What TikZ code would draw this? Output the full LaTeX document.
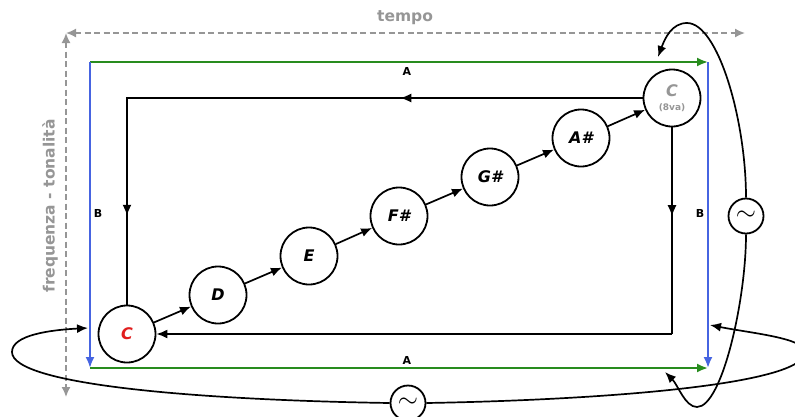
\documentclass[tikz,border=0pt]{standalone}
\usepackage{fontspec}
\setmainfont{DejaVu Sans}
\usetikzlibrary{arrows.meta}

\definecolor{axisgray}{RGB}{150,150,150}
\definecolor{framegreen}{RGB}{40,140,30}
\definecolor{frameblue}{RGB}{70,100,225}
\definecolor{notered}{RGB}{225,30,30}

\begin{document}
\begin{tikzpicture}[x=1pt,y=-1pt,
  tip/.style={-{Latex[length=11pt,width=9pt]}},
  blk/.style={line width=1.7pt,black},
  axisline/.style={line width=1.6pt,axisgray,dash pattern=on 6pt off 3.5pt,
    {Latex[length=10pt,width=9pt]}-{Latex[length=10pt,width=9pt]}},
  axislabel/.style={text=axisgray,font=\fontsize{15.5}{16}\selectfont\bfseries},
  greenline/.style={line width=2pt,framegreen},
  blueline/.style={line width=2pt,frameblue},
  lab/.style={font=\fontsize{11}{11}\selectfont\bfseries,inner sep=0pt},
  note/.style={circle,draw,line width=1.8pt,fill=white,minimum size=57pt,inner sep=0pt,
    font=\fontsize{16}{16}\selectfont\bfseries\itshape},
  tildenode/.style={circle,draw,line width=1.8pt,fill=white,minimum size=35pt,inner sep=0pt}
]
\useasboundingbox (0,0) rectangle (795,416);

% axes: time and pitch
\coordinate (origin) at (66,33);
\coordinate (timeend) at (745,33);
\coordinate (pitchend) at (66,397);
\draw[axisline] (origin) -- (timeend);
\draw[axisline] (origin) -- (pitchend);
\node[axislabel] (tempo) at (405,18) {tempo};
\node[axislabel,rotate=90] (freq) at (50,206) {frequenza - tonalità};

% outer frame: A (green) and B (blue)
\coordinate (ftl) at (90,62);
\coordinate (ftr) at (708,62);
\coordinate (fbl) at (90,368);
\coordinate (fbr) at (708,368);
\draw[greenline,tip] (ftl) -- (ftr);
\draw[greenline,tip] (fbl) -- (fbr);
\draw[blueline,tip] (ftl) -- (fbl);
\draw[blueline,tip] (ftr) -- (fbr);
\node[lab] (atop) at (407,71) {A};
\node[lab] (abot) at (407,360) {A};
\node[lab] (bleft) at (98,213) {B};
\node[lab] (bright) at (700,213) {B};

% the scale in whole tones
\node[note,text=notered] (c) at (127,334) {C};
\node[note] (d) at (218,295) {D};
\node[note] (e) at (309,256) {E};
\node[note] (fs) at (399,216) {F\#};
\node[note] (gs) at (490,177) {G\#};
\node[note] (as) at (581,138) {A\#};
\node[note,text=axisgray,align=center] (c8) at (672,98)
  {C\\[-2pt]{\fontsize{9}{10}\selectfont\upshape (8va)}};

\draw[blk,tip] (c) -- (d);
\draw[blk,tip] (d) -- (e);
\draw[blk,tip] (e) -- (fs);
\draw[blk,tip] (fs) -- (gs);
\draw[blk,tip] (gs) -- (as);
\draw[blk,tip] (as) -- (c8);

% return paths from the octave back to C
\coordinate (k1) at (c8.west -| c);
\coordinate (k2) at (c8.south |- c.east);
\draw[blk] (c8.west) -- (k1) -- (c.north);
\path (c8.west) -- (k1) coordinate[pos=0.47] (m1);
\path (k1) -- (c.north) coordinate[pos=0.57] (m2);
\draw[blk,tip] (c8.west) -- (m1);
\draw[blk,tip] (k1) -- (m2);
\draw[blk] (c8.south) -- (k2);
\path (c8.south) -- (k2) coordinate[pos=0.43] (m3);
\draw[blk,tip] (c8.south) -- (m3);
\draw[blk,tip] (k2) -- (c.east);

% oscillating loops
\node[tildenode] (osr) at (746,216) {\scalebox{2.6}{$\sim$}};
\node[tildenode] (osb) at (408,403) {\scalebox{2.6}{$\sim$}};

\coordinate (vtop) at (658,57);
\coordinate (vbot) at (665,372);
\coordinate (hleft) at (88,328);
\coordinate (hright) at (710,325);

\draw[blk,tip] (osr.north) .. controls (746,120) and (718,23) .. (687,23)
  .. controls (672,23) and (665,38) .. (vtop);
\draw[blk,tip] (osr.south) .. controls (746,300) and (722,407) .. (697,407)
  .. controls (685,407) and (678,385) .. (vbot);
\draw[blk,tip] (osb.west) .. controls (200,400) and (12,385) .. (12,352)
  .. controls (12,335) and (50,330) .. (hleft);
\draw[blk,tip] (osb.east) .. controls (600,400) and (805,385) .. (805,352)
  .. controls (805,338) and (750,333) .. (hright);
\end{tikzpicture}
\end{document}
